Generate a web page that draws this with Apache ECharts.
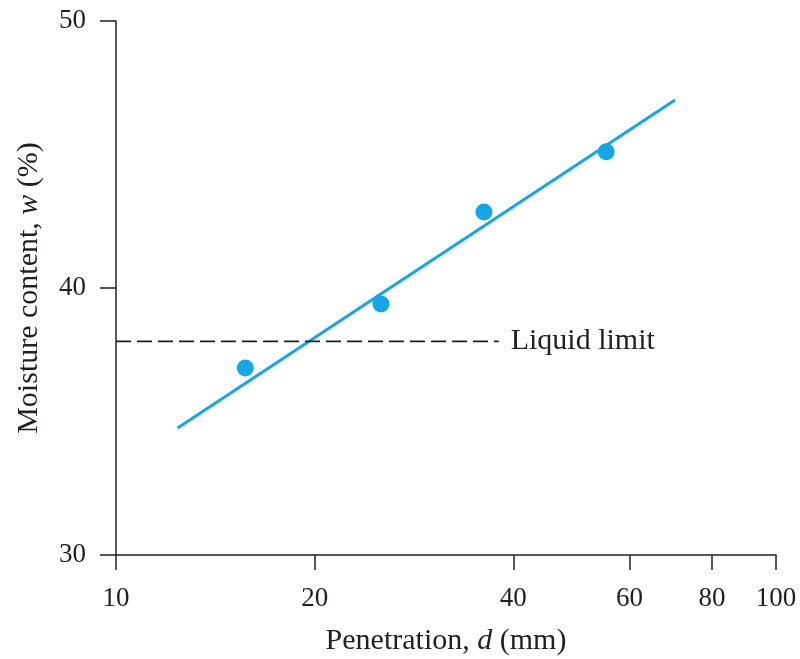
<!DOCTYPE html>
<html>
<head>
<meta charset="utf-8">
<script src="https://cdn.jsdelivr.net/npm/echarts@6/dist/echarts.min.js"></script>
<style>
html,body{margin:0;padding:0;background:#fff;}
#chart{width:800px;height:659px;}
</style>
</head>
<body>
<div id="chart"></div>
<script>
// 试验数据
let penetration = [15.7, 25.2, 36.1, 55.3];
let moisture = [37.0, 39.4, 42.85, 45.1];
// 拟合直线两端
let fitX = [12.4, 70.3];
let fitY = [34.76, 47.04];
// 液限
let liquidLimit = 38;
let liquidEndX = 38;
let xTicks = [10, 20, 40, 60, 80, 100];

let ink = '#231f20';
let blue = '#14a6e6';
let font = 'Liberation Serif';

let chart = echarts.init(document.getElementById('chart'));
let option = {
    animation: false,
    grid: {left: 116, right: 24, top: 21, bottom: 104, outerBoundsMode: 'none', containLabel: false},
    xAxis: {
        type: 'log',
        logBase: 10,
        min: 10,
        max: 100,
        name: 'Penetration, {i|d} (mm)',
        nameLocation: 'middle',
        nameGap: 71,
        nameTextStyle: {
            color: ink, fontFamily: font, fontSize: 30,
            rich: {i: {fontStyle: 'italic', fontFamily: font, fontSize: 30, color: ink}}
        },
        axisLine: {lineStyle: {color: ink, width: 1.5}},
        axisTick: {show: true, inside: false, length: 15, customValues: xTicks, lineStyle: {color: ink, width: 1.5}},
        axisLabel: {color: ink, fontFamily: font, fontSize: 27, margin: 30, customValues: xTicks, formatter: v => String(Math.round(v))},
        minorTick: {show: false},
        splitLine: {show: false}
    },
    yAxis: {
        type: 'value',
        min: 30,
        max: 50,
        interval: 10,
        name: 'Moisture content, {i|w} (%)',
        nameLocation: 'middle',
        nameGap: 72,
        nameTextStyle: {
            color: ink, fontFamily: font, fontSize: 30,
            rich: {i: {fontStyle: 'italic', fontFamily: font, fontSize: 30, color: ink}}
        },
        axisLine: {show: true, onZero: false, lineStyle: {color: ink, width: 1.5}},
        axisTick: {show: true, inside: false, length: 16, lineStyle: {color: ink, width: 1.5}},
        axisLabel: {color: ink, fontFamily: font, fontSize: 27, margin: 30},
        splitLine: {show: false}
    },
    series: [
        {
            type: 'line',
            data: [[fitX[0], fitY[0]], [fitX[1], fitY[1]]],
            showSymbol: false,
            lineStyle: {color: blue, width: 3},
            silent: true
        },
        {
            type: 'line',
            data: [[10, liquidLimit], [liquidEndX, liquidLimit]],
            showSymbol: false,
            lineStyle: {color: ink, width: 1.6, type: [15, 6]},
            endLabel: {
                show: true,
                formatter: 'Liquid limit',
                color: ink,
                fontFamily: font,
                fontSize: 30,
                distance: 12
            },
            silent: true
        },
        {
            type: 'scatter',
            data: penetration.map((d, i) => [d, moisture[i]]),
            symbolSize: 17,
            itemStyle: {color: blue, opacity: 1}
        }
    ]
};
chart.setOption(option);
</script>
</body>
</html>
